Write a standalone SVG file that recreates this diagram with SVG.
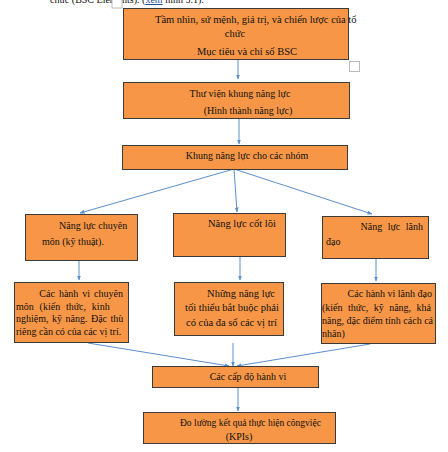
<svg xmlns="http://www.w3.org/2000/svg" width="448" height="452" viewBox="0 0 448 452">
<defs>
<style>
.box{fill:#F79646;stroke:#3a3a3a;stroke-width:1}
.t{font-family:"Liberation Serif","Times New Roman",serif;font-size:10px;fill:#111}
.big{font-size:10.5px}
.sm{font-size:9.5px}
.c{text-anchor:middle}
.e{text-anchor:end}
.ln{stroke:#5B8FCC;stroke-width:1;fill:none;marker-end:url(#ah)}
</style>
<marker id="ah" viewBox="0 0 10 10" refX="9" refY="5" markerWidth="5" markerHeight="5" orient="auto">
<path d="M0,1 L10,5 L0,9 z" fill="#5B8FCC"/>
</marker>
</defs>
<rect width="448" height="452" fill="#fff"/>
<text class="t" x="50" y="3">chức (BSC Elements). (<tspan fill="#1F4E9A" text-decoration="underline">xem</tspan> hình 5.1).</text>
<rect x="112" y="-1" width="10" height="9" fill="#fff" stroke="#aaa" stroke-width="0.8"/>
<rect x="349.5" y="61.5" width="10" height="10" fill="#fff" stroke="#bbb" stroke-width="1"/>

<g id="connectors">
<line class="ln" x1="238" y1="59" x2="238" y2="79"/>
<line class="ln" x1="239" y1="118" x2="239" y2="144"/>
<line class="ln" x1="234" y1="169" x2="80" y2="213"/>
<line class="ln" x1="234" y1="169" x2="237" y2="212"/>
<line class="ln" x1="234" y1="169" x2="372" y2="214"/>
<line class="ln" x1="79" y1="260" x2="79" y2="280"/>
<line class="ln" x1="240" y1="257" x2="240" y2="280"/>
<line class="ln" x1="376" y1="258" x2="376" y2="281"/>
<line class="ln" x1="88" y1="343" x2="229" y2="366"/>
<line class="ln" x1="233" y1="343" x2="233" y2="366"/>
<line class="ln" x1="370" y1="344" x2="237" y2="366"/>
<line class="ln" x1="238" y1="387" x2="238" y2="411"/>
</g>

<g id="n1">
<rect class="box" x="123.5" y="8.5" width="225" height="51"/>
<text class="t big" x="155" y="23">Tầm nhìn, sứ mệnh, giá trị, và chiến lược của tổ</text>
<text class="t big c" x="235" y="37">chức</text>
<text class="t big c" x="247" y="55">Mục tiêu và chỉ số BSC</text>
</g>
<g id="n2">
<rect class="box" x="123.5" y="82.5" width="226" height="36"/>
<text class="t c" x="240" y="97">Thư viện khung năng lực</text>
<text class="t c" x="248" y="114">(Hình thành năng lực)</text>
</g>
<g id="n3">
<rect class="box" x="122.5" y="145.5" width="225" height="24"/>
<text class="t c" x="247" y="159">Khung năng lực cho các nhóm</text>
</g>
<g id="n4">
<rect class="box" x="25.5" y="214.5" width="112" height="46"/>
<text class="t" x="59" y="229">Năng lực chuyên</text>
<text class="t" x="42" y="245">môn (kỹ thuật).</text>
</g>
<g id="n5">
<rect class="box" x="173.5" y="213.5" width="112" height="43"/>
<text class="t big" x="208" y="227">Năng lực cốt lõi</text>
</g>
<g id="n6">
<rect class="box" x="322.5" y="216.5" width="106" height="42"/>
<text class="t e" x="423" y="230" word-spacing="3">Năng lực lãnh</text>
<text class="t" x="326" y="245">đạo</text>
</g>
<g id="n7">
<rect class="box" x="14.5" y="282.5" width="114" height="60"/>
<text class="t e" x="123" y="297" word-spacing="1.5">Các hành vi chuyên</text>
<text class="t" x="16" y="310" word-spacing="3.3">môn (kiến thức, kinh</text>
<text class="t" x="16" y="322" word-spacing="1">nghiệm, kỹ năng. Đặc thù</text>
<text class="t" x="16" y="335">riêng cần có của các vị trí.</text>
</g>
<g id="n8">
<rect class="box" x="174.5" y="282.5" width="109" height="53"/>
<text class="t big e" x="275" y="297">Những năng lực</text>
<text class="t big" x="185" y="311">tối thiểu bắt buộc phải</text>
<text class="t big" x="186" y="326">có của đa số các vị trí</text>
</g>
<g id="n9">
<rect class="box" x="321.5" y="283.5" width="114" height="60"/>
<text class="t e" x="432" y="297">Các hành vi lãnh đạo</text>
<text class="t" x="322" y="311" word-spacing="3">(kiến thức, kỹ năng, khả</text>
<text class="t" x="322" y="324">năng, đặc điểm tính cách cá</text>
<text class="t" x="322" y="337">nhân)</text>
</g>
<g id="n10">
<rect class="box" x="152.5" y="366.5" width="166" height="21"/>
<text class="t c" x="248" y="380">Các cấp độ hành vi</text>
</g>
<g id="n11">
<rect class="box" x="143.5" y="412.5" width="192" height="31"/>
<text class="t sm" x="180" y="426">Đo lường kết quả thực hiện côngviệc</text>
<text class="t c" x="239" y="440">(KPIs)</text>
</g>
</svg>
